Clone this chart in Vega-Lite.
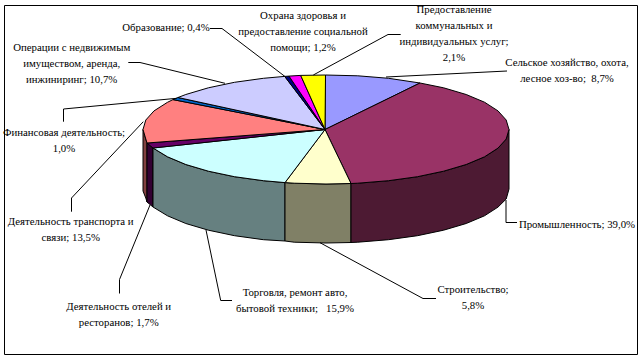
{
"$schema":"https://vega.github.io/schema/vega-lite/v6.json",
"width":643,"height":360,"padding":0,
"autosize":{"type":"fit","contains":"padding"},
"background":"white",
"view":{"stroke":null},
"config":{"axis":{"disable":true},"legend":{"disable":true}},
"datasets":{
"shapes":[
{"s":"side_trans","i":0,"x":143,"y":129.5},{"s":"side_trans","i":1,"x":145.8,"y":139},{"s":"side_trans","i":2,"x":147,"y":143},{"s":"side_trans","i":3,"x":147,"y":202},{"s":"side_trans","i":4,"x":145.8,"y":198},{"s":"side_trans","i":5,"x":143,"y":191},{"s":"side_trans","i":6,"x":143,"y":129.5},
{"s":"side_hotel","i":0,"x":147,"y":143},{"s":"side_hotel","i":1,"x":153,"y":148},{"s":"side_hotel","i":2,"x":153,"y":207},{"s":"side_hotel","i":3,"x":147,"y":202},{"s":"side_hotel","i":4,"x":147,"y":143},
{"s":"side_trade","i":0,"x":153,"y":148},{"s":"side_trade","i":1,"x":167.5,"y":156.8},{"s":"side_trade","i":2,"x":185.8,"y":164.5},{"s":"side_trade","i":3,"x":208.4,"y":171.2},{"s":"side_trade","i":4,"x":234.5,"y":176.7},{"s":"side_trade","i":5,"x":263.4,"y":180.7},{"s":"side_trade","i":6,"x":285,"y":182.6},{"s":"side_trade","i":7,"x":285,"y":241},{"s":"side_trade","i":8,"x":263.4,"y":239.7},{"s":"side_trade","i":9,"x":234.5,"y":235.7},{"s":"side_trade","i":10,"x":208.4,"y":230.2},{"s":"side_trade","i":11,"x":185.8,"y":223.5},{"s":"side_trade","i":12,"x":167.5,"y":215.8},{"s":"side_trade","i":13,"x":153,"y":207},{"s":"side_trade","i":14,"x":153,"y":148},
{"s":"side_build","i":0,"x":285,"y":182.6},{"s":"side_build","i":1,"x":294.2,"y":183.2},{"s":"side_build","i":2,"x":326,"y":184},{"s":"side_build","i":3,"x":351,"y":183.5},{"s":"side_build","i":4,"x":351,"y":242.5},{"s":"side_build","i":5,"x":326,"y":243},{"s":"side_build","i":6,"x":294.2,"y":242.2},{"s":"side_build","i":7,"x":285,"y":241},{"s":"side_build","i":8,"x":285,"y":182.6},
{"s":"side_ind","i":0,"x":351,"y":183.5},{"s":"side_ind","i":1,"x":357.8,"y":183.2},{"s":"side_ind","i":2,"x":388.6,"y":180.7},{"s":"side_ind","i":3,"x":417.5,"y":176.7},{"s":"side_ind","i":4,"x":443.6,"y":171.2},{"s":"side_ind","i":5,"x":466.2,"y":164.5},{"s":"side_ind","i":6,"x":484.5,"y":156.8},{"s":"side_ind","i":7,"x":498,"y":148.1},{"s":"side_ind","i":8,"x":506.2,"y":139},{"s":"side_ind","i":9,"x":509,"y":129.5},{"s":"side_ind","i":10,"x":509,"y":189},{"s":"side_ind","i":11,"x":506.2,"y":199},{"s":"side_ind","i":12,"x":498,"y":207.1},{"s":"side_ind","i":13,"x":484.5,"y":215.8},{"s":"side_ind","i":14,"x":466.2,"y":223.5},{"s":"side_ind","i":15,"x":443.6,"y":230.2},{"s":"side_ind","i":16,"x":417.5,"y":235.7},{"s":"side_ind","i":17,"x":388.6,"y":239.7},{"s":"side_ind","i":18,"x":357.8,"y":242.2},{"s":"side_ind","i":19,"x":351,"y":242.5},{"s":"side_ind","i":20,"x":351,"y":183.5},
{"s":"top_agri","i":0,"x":325,"y":129.5},{"s":"top_agri","i":1,"x":420,"y":83},{"s":"top_agri","i":2,"x":388.6,"y":78.3},{"s":"top_agri","i":3,"x":357.8,"y":75.8},{"s":"top_agri","i":4,"x":325.5,"y":75},{"s":"top_agri","i":5,"x":325,"y":129.5},
{"s":"top_ind","i":0,"x":325,"y":129.5},{"s":"top_ind","i":1,"x":420,"y":83},{"s":"top_ind","i":2,"x":443.6,"y":87.8},{"s":"top_ind","i":3,"x":466.2,"y":94.5},{"s":"top_ind","i":4,"x":484.5,"y":102.2},{"s":"top_ind","i":5,"x":498,"y":110.9},{"s":"top_ind","i":6,"x":506.2,"y":120},{"s":"top_ind","i":7,"x":509,"y":129.5},{"s":"top_ind","i":8,"x":506.2,"y":139},{"s":"top_ind","i":9,"x":498,"y":148.1},{"s":"top_ind","i":10,"x":484.5,"y":156.8},{"s":"top_ind","i":11,"x":466.2,"y":164.5},{"s":"top_ind","i":12,"x":443.6,"y":171.2},{"s":"top_ind","i":13,"x":417.5,"y":176.7},{"s":"top_ind","i":14,"x":388.6,"y":180.7},{"s":"top_ind","i":15,"x":357.8,"y":183.2},{"s":"top_ind","i":16,"x":351,"y":183.5},{"s":"top_ind","i":17,"x":325,"y":129.5},
{"s":"top_build","i":0,"x":325,"y":129.5},{"s":"top_build","i":1,"x":351,"y":183.5},{"s":"top_build","i":2,"x":326,"y":184},{"s":"top_build","i":3,"x":294.2,"y":183.2},{"s":"top_build","i":4,"x":285,"y":182.6},{"s":"top_build","i":5,"x":325,"y":129.5},
{"s":"top_trade","i":0,"x":325,"y":129.5},{"s":"top_trade","i":1,"x":285,"y":182.6},{"s":"top_trade","i":2,"x":263.4,"y":180.7},{"s":"top_trade","i":3,"x":234.5,"y":176.7},{"s":"top_trade","i":4,"x":208.4,"y":171.2},{"s":"top_trade","i":5,"x":185.8,"y":164.5},{"s":"top_trade","i":6,"x":167.5,"y":156.8},{"s":"top_trade","i":7,"x":153,"y":148},{"s":"top_trade","i":8,"x":325,"y":129.5},
{"s":"top_hotel","i":0,"x":325,"y":129.5},{"s":"top_hotel","i":1,"x":153,"y":148},{"s":"top_hotel","i":2,"x":147,"y":143},{"s":"top_hotel","i":3,"x":325,"y":129.5},
{"s":"top_trans","i":0,"x":325,"y":129.5},{"s":"top_trans","i":1,"x":147,"y":143},{"s":"top_trans","i":2,"x":145.8,"y":139},{"s":"top_trans","i":3,"x":143,"y":129.5},{"s":"top_trans","i":4,"x":145.8,"y":120},{"s":"top_trans","i":5,"x":154,"y":110.9},{"s":"top_trans","i":6,"x":167.5,"y":102.3},{"s":"top_trans","i":7,"x":173,"y":99.6},{"s":"top_trans","i":8,"x":325,"y":129.5},
{"s":"top_fin","i":0,"x":325,"y":129.5},{"s":"top_fin","i":1,"x":173,"y":99.6},{"s":"top_fin","i":2,"x":178,"y":97.5},{"s":"top_fin","i":3,"x":325,"y":129.5},
{"s":"top_real","i":0,"x":325,"y":129.5},{"s":"top_real","i":1,"x":178,"y":97.5},{"s":"top_real","i":2,"x":185.8,"y":94.5},{"s":"top_real","i":3,"x":208.4,"y":87.8},{"s":"top_real","i":4,"x":234.5,"y":82.3},{"s":"top_real","i":5,"x":263.4,"y":78.3},{"s":"top_real","i":6,"x":284.7,"y":76.4},{"s":"top_real","i":7,"x":325,"y":129.5},
{"s":"top_edu","i":0,"x":325,"y":129.5},{"s":"top_edu","i":1,"x":284.7,"y":76.4},{"s":"top_edu","i":2,"x":289,"y":76.1},{"s":"top_edu","i":3,"x":325,"y":129.5},
{"s":"top_health","i":0,"x":325,"y":129.5},{"s":"top_health","i":1,"x":289,"y":76.1},{"s":"top_health","i":2,"x":300.7,"y":75.4},{"s":"top_health","i":3,"x":325,"y":129.5},
{"s":"top_util","i":0,"x":325,"y":129.5},{"s":"top_util","i":1,"x":300.7,"y":75.4},{"s":"top_util","i":2,"x":325.5,"y":75},{"s":"top_util","i":3,"x":325,"y":129.5}
],
"leaders":[
{"s":"edu","i":0,"x":210,"y":28.5},{"s":"edu","i":1,"x":222,"y":28.5},{"s":"edu","i":2,"x":285,"y":76.5},
{"s":"util","i":0,"x":313.3,"y":75},{"s":"util","i":1,"x":388,"y":34.5},{"s":"util","i":2,"x":400.7,"y":34.5},
{"s":"agri","i":0,"x":386,"y":77},{"s":"agri","i":1,"x":467,"y":73},{"s":"agri","i":2,"x":507,"y":71},
{"s":"ind","i":0,"x":506,"y":200},{"s":"ind","i":1,"x":506,"y":222.5},{"s":"ind","i":2,"x":517,"y":222.5},
{"s":"build","i":0,"x":320,"y":242.7},{"s":"build","i":1,"x":423,"y":298.5},{"s":"build","i":2,"x":436,"y":298.5},
{"s":"trade","i":0,"x":206,"y":230},{"s":"trade","i":1,"x":220.7,"y":300.5},{"s":"trade","i":2,"x":232,"y":300.5},
{"s":"hotel","i":0,"x":150,"y":205},{"s":"hotel","i":1,"x":119.5,"y":279.5},{"s":"hotel","i":2,"x":119.5,"y":293.5},
{"s":"trans","i":0,"x":143.3,"y":121.7},{"s":"trans","i":1,"x":71.5,"y":198},{"s":"trans","i":2,"x":71.5,"y":211.7},
{"s":"fin","i":0,"x":176.7,"y":98.3},{"s":"fin","i":1,"x":63.5,"y":109},{"s":"fin","i":2,"x":63.5,"y":121.7},
{"s":"real","i":0,"x":128.3,"y":62.5},{"s":"real","i":1,"x":140,"y":62.5},{"s":"real","i":2,"x":225,"y":83.3},
{"s":"frame","i":0,"x":4.5,"y":5.5},{"s":"frame","i":1,"x":637.5,"y":5.5},{"s":"frame","i":2,"x":637.5,"y":354.5},{"s":"frame","i":3,"x":4.5,"y":354.5},{"s":"frame","i":4,"x":4.5,"y":5.5}
],
"labels":[
{"t":"Образование; 0,4%","share":0.4,"x":166,"y":28},
{"t":"Операции с недвижимым\nимуществом, аренда,\nинжиниринг; 10,7%","share":10.7,"x":71.7,"y":47.5},
{"t":"Финансовая деятельность;\n1,0%","share":1.0,"x":64,"y":133},
{"t":"Деятельность транспорта и\nсвязи; 13,5%","share":13.5,"x":70.7,"y":222},
{"t":"Деятельность отелей и\nресторанов; 1,7%","share":1.7,"x":118.7,"y":306.5},
{"t":"Торговля, ремонт авто,\nбытовой техники;\u00a0\u00a0\u00a015,9%","share":15.9,"x":295,"y":292.5},
{"t":"Строительство;\n5,8%","share":5.8,"x":473,"y":290},
{"t":"Промышленность; 39,0%","share":39.0,"x":577,"y":225},
{"t":"Сельское хозяйство, охота,\nлесное хоз-во;\u00a0\u00a08,7%","share":8.7,"x":567,"y":63},
{"t":"Предоставление\nкоммунальных и\nиндивидуальных услуг;\n2,1%","share":2.1,"x":454,"y":10},
{"t":"Охрана здоровья и\nпредоставление социальной\nпомощи; 1,2%","share":1.2,"x":303,"y":16}
]
},
"layer":[
{"data":{"name":"shapes"},
 "mark":{"type":"line","filled":true,"stroke":"black","strokeWidth":1,"strokeJoin":"miter"},
 "encoding":{
  "x":{"field":"x","type":"quantitative","scale":{"domain":[0,643]},"axis":null},
  "y":{"field":"y","type":"quantitative","scale":{"domain":[360,0]},"axis":null},
  "order":{"field":"i","type":"quantitative"},
  "color":{"field":"s","type":"nominal","legend":null,"scale":{
    "domain":["side_trans","side_hotel","side_trade","side_build","side_ind","top_agri","top_ind","top_build","top_trade","top_hotel","top_trans","top_fin","top_real","top_edu","top_health","top_util"],
    "range":["#804040","#330033","#668080","#808066","#4D1A33","#9999FF","#993366","#FFFFCC","#CCFFFF","#660066","#FF8080","#0066CC","#CCCCFF","#000080","#FF00FF","#FFFF00"]}}
 }},
{"data":{"name":"leaders"},
 "mark":{"type":"line","stroke":"black","strokeWidth":1},
 "encoding":{
  "x":{"field":"x","type":"quantitative","scale":{"domain":[0,643]},"axis":null},
  "y":{"field":"y","type":"quantitative","scale":{"domain":[360,0]},"axis":null},
  "order":{"field":"i","type":"quantitative"},
  "detail":{"field":"s","type":"nominal"}
 }},
{"data":{"name":"labels"},
 "mark":{"type":"text","font":"Liberation Serif","fontSize":10.8,"lineBreak":"\n","lineHeight":16,"align":"center","baseline":"middle","color":"black"},
 "encoding":{
  "x":{"field":"x","type":"quantitative","scale":{"domain":[0,643]},"axis":null},
  "y":{"field":"y","type":"quantitative","scale":{"domain":[360,0]},"axis":null},
  "text":{"field":"t","type":"nominal"}
 }}
]
}
